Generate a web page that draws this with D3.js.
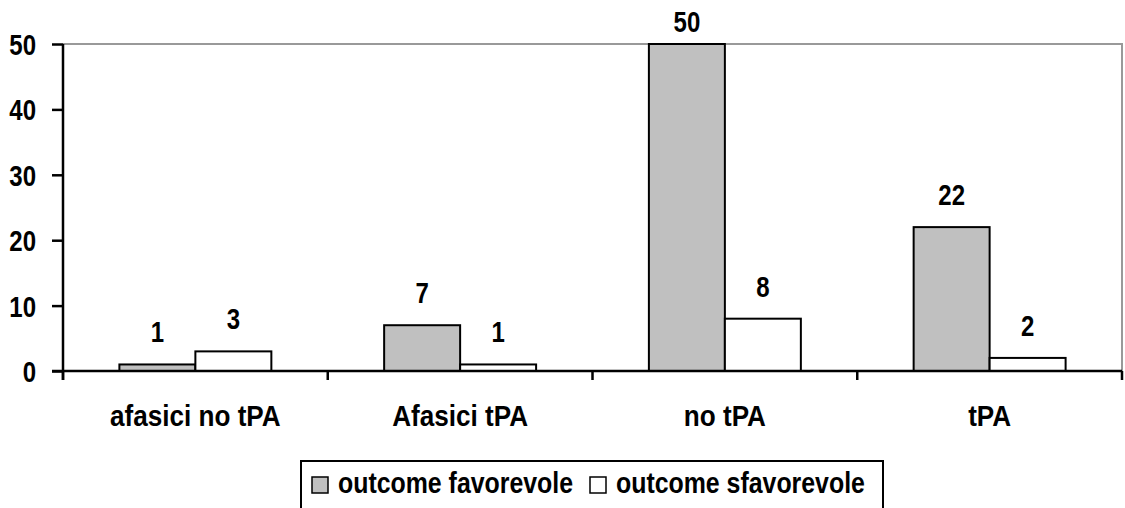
<!DOCTYPE html>
<html>
<head>
<meta charset="utf-8">
<script src="https://cdn.jsdelivr.net/npm/d3@7"></script>
<style>
  html, body { margin: 0; padding: 0; background: #fff; }
  svg { display: block; }
  text { font-family: "Liberation Sans", Arial, sans-serif; font-weight: bold; fill: #000; font-size: 30px; }
</style>
</head>
<body>
<svg id="chart" width="1125" height="508"></svg>
<script>
// Grouped bar chart: outcome per patient group
const categories = ["afasici no tPA", "Afasici tPA", "no tPA", "tPA"];
const seriesNames = ["outcome favorevole", "outcome sfavorevole"];
const favorevole = [1, 7, 50, 22];
const sfavorevole = [3, 1, 8, 2];
const yTicks = [0, 10, 20, 30, 40, 50];
const seriesColors = ["#c0c0c0", "#ffffff"];

const svg = d3.select("#chart");
const plotLeft = 63, plotRight = 1122, plotTop = 44, plotBottom = 371;
// horizontal condensing per text group
const squeezeNum = 0.8, squeezeCat = 0.87, squeezeLeg = 0.83;

const x0 = d3.scaleBand().domain(categories).range([plotLeft, plotRight])
  .paddingInner(0.426).paddingOuter(0.213);
const x1 = d3.scaleBand().domain(seriesNames).range([0, x0.bandwidth()]);
const y = d3.scaleLinear().domain([0, 50]).range([plotBottom, plotTop]);

// place a condensed text label at (px, py)
function label(sel, px, py, sx) {
  return sel.attr("transform", (d, i) => `translate(${px(d, i)},${py(d, i)}) scale(${sx},1)`);
}

// plot area frame (top and right edges)
svg.append("path")
  .attr("d", `M${plotLeft},${plotTop}H${plotRight}V${plotBottom}`)
  .attr("fill", "none").attr("stroke", "#999").attr("stroke-width", 2);

const rows = categories.map((c, i) => ({ cat: c, vals: [favorevole[i], sfavorevole[i]] }));

const g = svg.append("g").selectAll("g").data(rows).join("g")
  .attr("transform", d => `translate(${x0(d.cat)},0)`);

g.selectAll("rect").data(d => d.vals.map((v, j) => ({ v, s: seriesNames[j], j })))
  .join("rect")
  .attr("x", d => x1(d.s))
  .attr("y", d => y(d.v))
  .attr("width", x1.bandwidth())
  .attr("height", d => y(0) - y(d.v))
  .attr("fill", d => seriesColors[d.j])
  .attr("stroke", "#000").attr("stroke-width", 2);

label(g.selectAll("text.val").data(d => d.vals.map((v, j) => ({ v, s: seriesNames[j] })))
  .join("text").attr("class", "val")
  .attr("text-anchor", "middle")
  .text(d => d.v),
  d => x1(d.s) + x1.bandwidth() / 2,
  d => Math.max(y(d.v) - 22, 32),
  squeezeNum);

// y axis
const yAxis = svg.append("g").attr("transform", `translate(${plotLeft},0)`)
  .call(d3.axisLeft(y).tickValues(yTicks).tickSize(11).tickPadding(15));
yAxis.select(".domain").attr("stroke", "#000").attr("stroke-width", 2.5)
  .attr("d", `M0,${plotTop}V${plotBottom + 9}`);
yAxis.selectAll(".tick line").attr("stroke", "#000").attr("stroke-width", 2.5);
yAxis.selectAll(".tick text")
  .attr("font-size", null).attr("font-family", null).attr("fill", "#000")
  .attr("transform", `scale(${squeezeNum},1)`)
  .attr("x", -27 / squeezeNum)
  .attr("dy", "0.35em");

// x axis with ticks on category boundaries
const xAxis = svg.append("g").attr("transform", `translate(0,${plotBottom})`);
xAxis.append("line").attr("x1", plotLeft - 11).attr("x2", plotRight)
  .attr("stroke", "#000").attr("stroke-width", 2.5);
const bounds = d3.range(categories.length + 1).map(i => plotLeft + i * x0.step());
xAxis.selectAll("line.tk").data(bounds).join("line").attr("class", "tk")
  .attr("x1", d => d).attr("x2", d => d).attr("y1", 0).attr("y2", 9)
  .attr("stroke", "#000").attr("stroke-width", 2.5);
label(xAxis.selectAll("text").data(categories).join("text")
  .attr("text-anchor", "middle")
  .text(d => d),
  d => x0(d) + x0.bandwidth() / 2,
  () => 55,
  squeezeCat);

// legend
const lg = svg.append("g");
lg.append("rect").attr("x", 301).attr("y", 461).attr("width", 582).attr("height", 60)
  .attr("fill", "#fff").attr("stroke", "#000").attr("stroke-width", 2);
const lx = [312, 590];
seriesNames.forEach((s, j) => {
  lg.append("rect").attr("x", lx[j]).attr("y", 477).attr("width", 16).attr("height", 16)
    .attr("fill", seriesColors[j]).attr("stroke", "#000").attr("stroke-width", 1.5);
  lg.append("text").attr("transform", `translate(${lx[j] + 26},493) scale(${squeezeLeg},1)`).text(s);
});
</script>
</body>
</html>
